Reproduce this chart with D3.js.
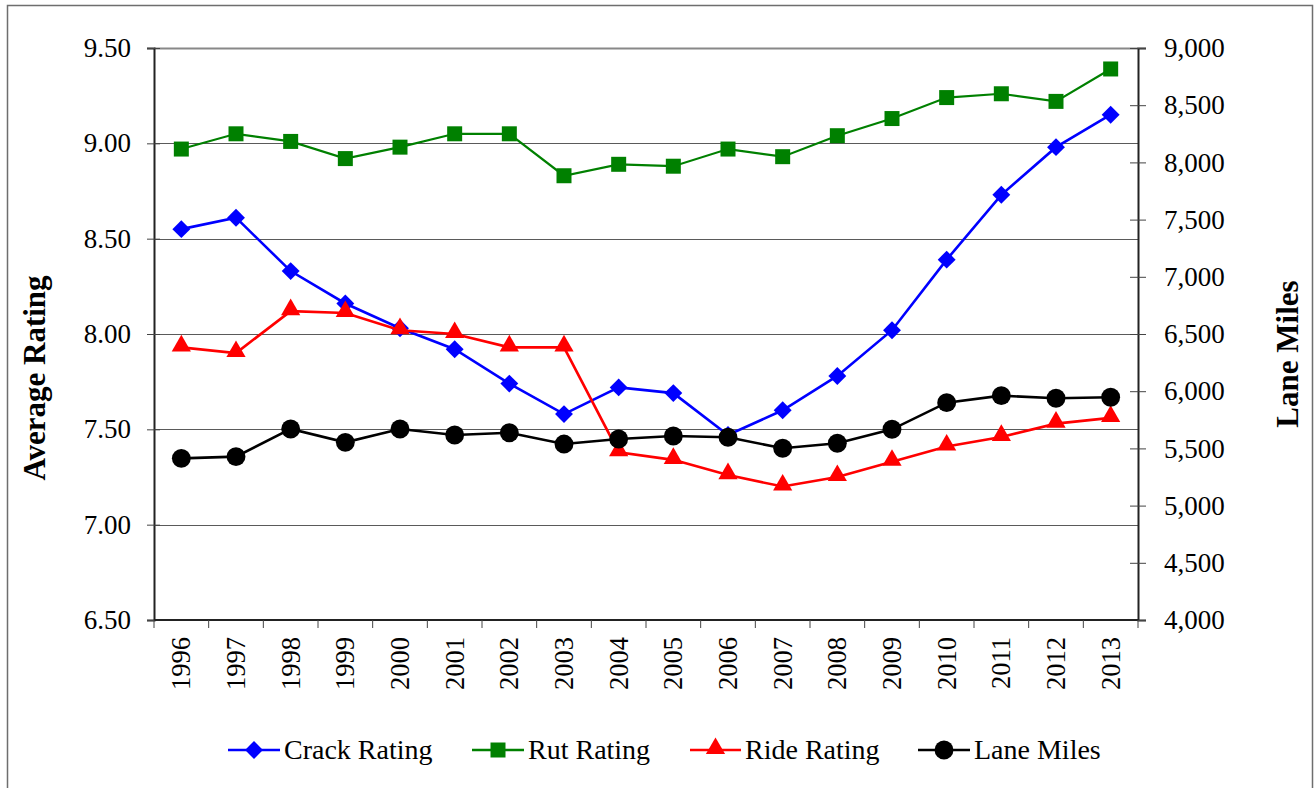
<!DOCTYPE html>
<html>
<head>
<meta charset="utf-8">
<script src="https://cdn.jsdelivr.net/npm/d3@7/dist/d3.min.js"></script>
<style>
  html, body { margin: 0; padding: 0; background: #fff; }
  #chart text { font-family: "Liberation Serif", "Times New Roman", serif !important; fill: #000; }
</style>
</head>
<body>
<svg id="chart" width="1315" height="788" font-family="Liberation Serif, serif"></svg>
<script>
// Pavement condition ratings and lane miles by year
const years = ["1996","1997","1998","1999","2000","2001","2002","2003","2004","2005",
               "2006","2007","2008","2009","2010","2011","2012","2013"];
const crackRating = [8.55, 8.61, 8.33, 8.16, 8.03, 7.92, 7.74, 7.58, 7.72, 7.69,
                     7.47, 7.60, 7.78, 8.02, 8.39, 8.73, 8.98, 9.15];
const rutRating   = [8.97, 9.05, 9.01, 8.92, 8.98, 9.05, 9.05, 8.83, 8.89, 8.88,
                     8.97, 8.93, 9.04, 9.13, 9.24, 9.26, 9.22, 9.39];
const rideRating  = [7.93, 7.90, 8.12, 8.11, 8.02, 8.00, 7.93, 7.93, 7.38, 7.34,
                     7.26, 7.20, 7.25, 7.33, 7.41, 7.46, 7.53, 7.56];
const laneMiles   = [5413, 5428, 5670, 5553, 5670, 5617, 5637, 5538, 5582, 5608,
                     5597, 5501, 5545, 5667, 5900, 5961, 5938, 5947];
const leftTicks  = [6.5, 7.0, 7.5, 8.0, 8.5, 9.0, 9.5];
const rightTicks = [4000, 4500, 5000, 5500, 6000, 6500, 7000, 7500, 8000, 8500, 9000];

const FONT = "Liberation Serif, Times New Roman, serif";
const svg = d3.select("#chart");
const plot = { left: 154, right: 1138, top: 48, bottom: 620 };

const x = d3.scaleBand().domain(years).range([plot.left, plot.right]).padding(0);
const yL = d3.scaleLinear().domain([6.5, 9.5]).range([plot.bottom, plot.top]);
const yR = d3.scaleLinear().domain([4000, 9000]).range([plot.bottom, plot.top]);
const cx = d => x(d) + x.bandwidth() / 2;

// outer chart border
svg.append("path")
  .attr("d", "M7.5,788 L7.5,5.5 L1312.5,5.5 L1312.5,788")
  .attr("fill", "none").attr("stroke", "#6e6e6e").attr("stroke-width", 1.5);

// horizontal gridlines
svg.append("g").selectAll("line")
  .data(leftTicks.filter(t => t > 6.5))
  .join("line")
  .attr("x1", plot.left).attr("x2", plot.right)
  .attr("y1", d => Math.round(yL(d)) + 0.5).attr("y2", d => Math.round(yL(d)) + 0.5)
  .attr("stroke", d => d === 9.5 ? "#888" : "#5a5a5a")
  .attr("stroke-width", d => d === 9.5 ? 2 : 1);

// left axis
const gL = svg.append("g").attr("transform", `translate(${plot.left},0)`)
  .call(d3.axisLeft(yL).tickValues(leftTicks).tickFormat(d3.format(".2f")).tickSize(7).tickPadding(16));
gL.attr("font-family", FONT);
gL.selectAll("text").style("font-size", "27px").style("font-family", FONT);
gL.select(".domain").attr("stroke", "#222").attr("stroke-width", 2);
gL.selectAll(".tick line").attr("stroke", "#444");
gL.selectAll(".tick").append("line").attr("x1", 0).attr("x2", 6).attr("stroke", "#444");

// right axis
const gR = svg.append("g").attr("transform", `translate(${plot.right},0)`)
  .call(d3.axisRight(yR).tickValues(rightTicks).tickFormat(d3.format(",")).tickSize(8).tickPadding(18));
gR.attr("font-family", FONT);
gR.selectAll("text").style("font-size", "27px").style("font-family", FONT);
gR.select(".domain").attr("stroke", "#222").attr("stroke-width", 2);
gR.selectAll(".tick line").attr("stroke", "#444");
gR.selectAll(".tick").append("line").attr("x1", -8).attr("x2", 0).attr("stroke", "#444");

// bottom axis: ticks at category boundaries, rotated year labels
const gB = svg.append("g").attr("transform", `translate(0,${plot.bottom})`);
gB.append("line").attr("x1", plot.left).attr("x2", plot.right)
  .attr("stroke", "#222").attr("stroke-width", 2);
const bounds = years.map(d => x(d)).concat([plot.right]);
gB.selectAll("line.tk").data(bounds).join("line").attr("class", "tk")
  .attr("x1", d => d).attr("x2", d => d).attr("y1", 0).attr("y2", 8)
  .attr("stroke", "#444");
gB.selectAll("text").data(years).join("text")
  .attr("transform", d => `translate(${cx(d) + 9},17) rotate(-90)`)
  .attr("text-anchor", "end")
  .style("font-size", "26.5px").style("font-family", FONT)
  .text(d => d);

// axis titles
svg.append("text")
  .attr("transform", "translate(45,378) rotate(-90)")
  .attr("text-anchor", "middle")
  .style("font-size", "31px").style("font-weight", "bold").style("font-family", FONT)
  .text("Average Rating");
svg.append("text")
  .attr("transform", "translate(1298,354) rotate(-90)")
  .attr("text-anchor", "middle")
  .style("font-size", "31px").style("font-weight", "bold").style("font-family", FONT)
  .text("Lane Miles");

// marker shapes
const shapeMarker = {
  diamond: sel => sel.append("path").attr("d", d3.symbol().type(d3.symbolSquare).size(160)).attr("transform", "rotate(45)"),
  square: sel => sel.append("path").attr("d", d3.symbol().type(d3.symbolSquare).size(225)),
  triangle: sel => sel.append("path").attr("d", d3.symbol().type(d3.symbolTriangle).size(160)).attr("transform", "translate(0,-1.5)"),
  circle: sel => sel.append("path").attr("d", d3.symbol().type(d3.symbolCircle).size(280))
};

const series = [
  { name: "Rut Rating",   values: rutRating,   scale: yL, color: "#008000", width: 2.2, shape: "square" },
  { name: "Crack Rating", values: crackRating, scale: yL, color: "#0000ff", width: 2.6, shape: "diamond" },
  { name: "Ride Rating",  values: rideRating,  scale: yL, color: "#ff0000", width: 2.6, shape: "triangle" },
  { name: "Lane Miles",   values: laneMiles,   scale: yR, color: "#000000", width: 2.6, shape: "circle" }
];

series.forEach(s => {
  const pts = years.map((yr, i) => [cx(yr), s.scale(s.values[i])]);
  svg.append("path")
    .attr("d", d3.line()(pts))
    .attr("fill", "none").attr("stroke", s.color).attr("stroke-width", s.width);
  const g = svg.append("g").selectAll("g").data(pts).join("g")
    .attr("transform", p => `translate(${p[0]},${p[1]})`);
  g.each(function() { shapeMarker[s.shape](d3.select(this)).attr("fill", s.color); });
});

// legend
const legendItems = [
  { name: "Crack Rating", color: "#0000ff", shape: "diamond", x1: 228, x2: 280 },
  { name: "Rut Rating",   color: "#008000", shape: "square",  x1: 472, x2: 524 },
  { name: "Ride Rating",  color: "#ff0000", shape: "triangle", x1: 690, x2: 741 },
  { name: "Lane Miles",   color: "#000000", shape: "circle",  x1: 918, x2: 970 }
];
const lg = svg.append("g").selectAll("g").data(legendItems).join("g");
lg.append("line")
  .attr("x1", d => d.x1).attr("x2", d => d.x2).attr("y1", 750).attr("y2", 750)
  .attr("stroke", d => d.color).attr("stroke-width", 2.6);
lg.each(function(d) {
  const m = d3.select(this).append("g").attr("transform", `translate(${(d.x1 + d.x2) / 2},750)`);
  shapeMarker[d.shape](m).attr("fill", d.color);
});
lg.append("text")
  .attr("x", d => d.x2 + 4).attr("y", 759)
  .style("font-size", "28px").style("font-family", FONT)
  .text(d => d.name);
</script>
</body>
</html>
